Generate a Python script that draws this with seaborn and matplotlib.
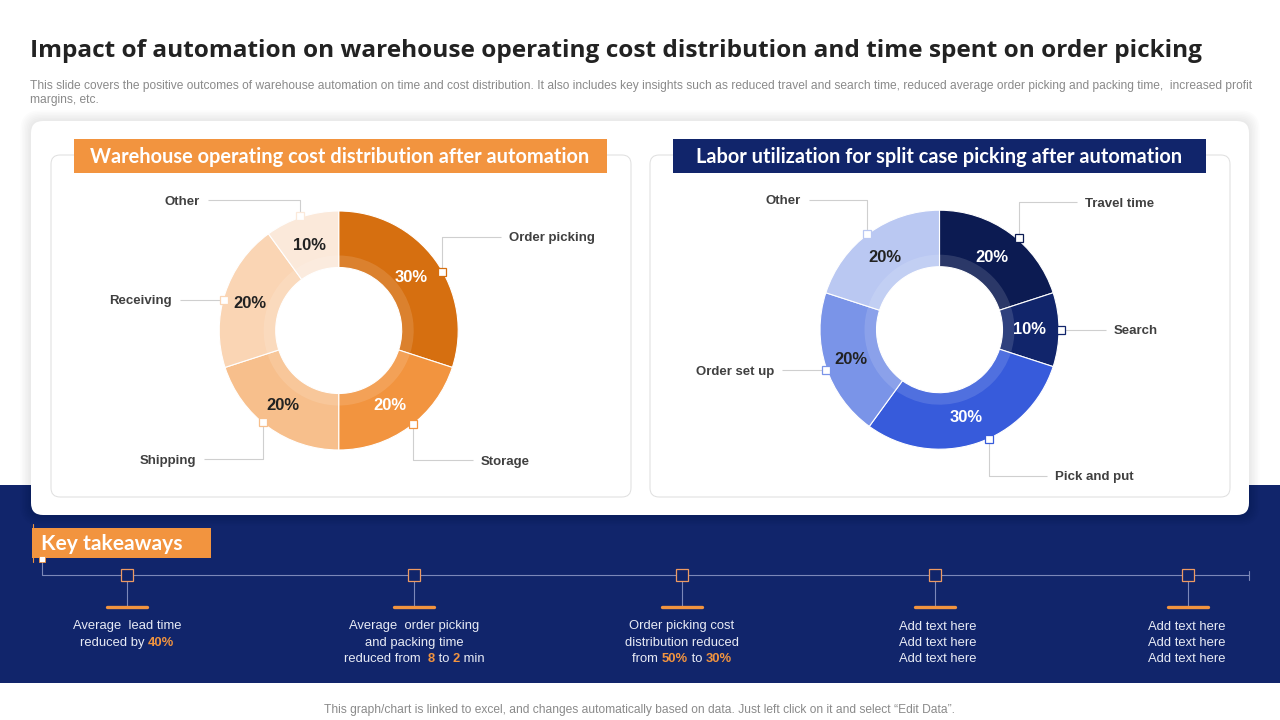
import matplotlib
matplotlib.use("Agg")
import matplotlib.pyplot as plt
from matplotlib.patches import FancyBboxPatch, Rectangle
import seaborn as sns

sns.set_theme(style="white")
plt.rcParams['font.family'] = ['Liberation Sans', 'DejaVu Sans']

# ---- data ----
cost_labels = ["Order picking", "Storage", "Shipping", "Receiving", "Other"]
cost_values = [30, 20, 20, 20, 10]
cost_colors = ["#D66F10", "#F2943F", "#F7BF8C", "#FAD5B4", "#FBE9DA"]
cost_text = ["white", "white", "#222222", "#222222", "#222222"]

labor_labels = ["Travel time", "Search", "Pick and put", "Order set up", "Other"]
labor_values = [20, 10, 30, 20, 20]
labor_colors = ["#0C1B52", "#11256B", "#375BDB", "#7A94E8", "#BAC8F2"]
labor_text = ["white", "white", "white", "#222222", "#222222"]

title = "Impact of automation on warehouse operating cost distribution and time spent on order picking"
subtitle = ["This slide covers the positive outcomes of warehouse automation on time and cost distribution. It also includes key insights such as reduced travel and search time, reduced average order picking and packing time,  increased profit",
            "margins, etc."]
cost_title = "Warehouse operating cost distribution after automation"
labor_title = "Labor utilization for split case picking after automation"
footer = "This graph/chart is linked to excel, and changes automatically based on data. Just left click on it and select “Edit Data”."

NAVY = "#11256B"
ORANGE = "#F2943F"
W, H = 1280, 720

fig = plt.figure(figsize=(12.8, 7.2), dpi=100, facecolor="white")
bg = fig.add_axes([0, 0, 1, 1])
bg.set_xlim(0, W); bg.set_ylim(H, 0); bg.axis("off")


def px(size):
    return size * 0.72


def box(x0, y0, x1, y1, r=0, **kw):
    if r:
        p = FancyBboxPatch((x0 + r, y0 + r), x1 - x0 - 2 * r, y1 - y0 - 2 * r,
                           boxstyle=f"round,pad={r},rounding_size={r}", **kw)
    else:
        p = Rectangle((x0, y0), x1 - x0, y1 - y0, **kw)
    bg.add_patch(p)
    return p


def runs(cx, baseline, parts, size):
    """Centred line of text made of (string, colour, bold) runs."""
    r = fig.canvas.get_renderer()
    arts = [bg.text(0, baseline, s, color=c, fontsize=px(size), va="baseline", ha="left",
                    fontweight="bold" if b else "normal") for s, c, b in parts]
    widths = [a.get_window_extent(r).width for a in arts]
    x = cx - sum(widths) / 2
    for a, w in zip(arts, widths):
        a.set_x(x)
        x += w


# backgrounds
box(0, 485, W, 683, facecolor=NAVY, edgecolor="none", zorder=0)
for i in range(8):
    box(31 - i * 1.5, 121 - i * 1.5, 1249 + i * 1.5, 515 + i * 1.5, r=12 + i,
        facecolor="black", edgecolor="none", alpha=0.012, zorder=0.5)
box(31, 121, 1249, 515, r=12, facecolor="white", edgecolor="none", zorder=1)
box(51, 155, 631, 497, r=9, facecolor="white", edgecolor="#DEDEDE", lw=0.7, zorder=1.1)
box(650, 155, 1230, 497, r=9, facecolor="white", edgecolor="#DEDEDE", lw=0.7, zorder=1.1)

# headings
bg.text(30, 57, title, fontsize=px(24.4), fontweight="bold", color="#222222",
        family=["Open Sans", "DejaVu Sans"], va="baseline", ha="left")
for y, line in zip([89, 103], subtitle):
    bg.text(30, y, line, fontsize=px(12.04), color="#8A8A8A", va="baseline", ha="left")

box(74, 139, 607, 173, facecolor=ORANGE, edgecolor="none", zorder=2)
box(673, 139, 1206, 173, facecolor=NAVY, edgecolor="none", zorder=2)
bg.text(340, 157, cost_title, color="white", fontsize=px(20), fontweight="bold",
        family=["Lato", "DejaVu Sans"], ha="center", va="center", zorder=3)
bg.text(939, 157, labor_title, color="white", fontsize=px(20), fontweight="bold",
        family=["Lato", "DejaVu Sans"], ha="center", va="center", zorder=3)


def donut(cx, cy, values, colors):
    R = 119.5
    ax = fig.add_axes([(cx - R) / W, 1 - (cy + R) / H, 2 * R / W, 2 * R / H], zorder=2)
    ax.pie(values, colors=sns.color_palette(colors), startangle=90, counterclock=False,
           radius=1, wedgeprops=dict(width=1 - 63 / R, edgecolor="white", linewidth=0.8))
    ax.pie(values, colors=["white"] * len(values), startangle=90, counterclock=False,
           radius=75 / R, wedgeprops=dict(width=12 / R, edgecolor="none", alpha=0.13))
    ax.set_xlim(-1, 1); ax.set_ylim(-1, 1)
    ax.patch.set_alpha(0)
    ax.axis("off")


donut(338.7, 330.5, cost_values, cost_colors)
donut(939.5, 329.7, labor_values, labor_colors)

# overlay for callouts and labels
ov = fig.add_axes([0, 0, 1, 1], zorder=5)
ov.set_xlim(0, W); ov.set_ylim(H, 0); ov.axis("off"); ov.patch.set_alpha(0)

LINE = "#CFCFCF"
TXT = "#404040"


def callout(path, colour, label, lx, ly, ha="left"):
    xs, ys = zip(*path)
    ov.plot(xs, ys, color=LINE, lw=0.8, zorder=1, solid_capstyle="butt")
    ov.plot(xs[0], ys[0], marker="s", ms=6.4, mfc="white", mec=colour, mew=0.9, zorder=3)
    ov.text(lx, ly + 1, label, fontsize=px(13.3), fontweight="bold", color=TXT,
            ha=ha, va="center", zorder=3)


callout([(442, 272), (442, 237), (501, 237)], cost_colors[0], cost_labels[0], 509, 237)
callout([(413, 424), (413, 460), (473, 460)], cost_colors[1], cost_labels[1], 481, 461)
callout([(263, 422), (263, 459), (204, 459)], cost_colors[2], cost_labels[2], 196, 460, "right")
callout([(224, 300), (180, 300)], cost_colors[3], cost_labels[3], 172, 300, "right")
callout([(300, 216), (300, 200), (208, 200)], cost_colors[4], cost_labels[4], 200, 201, "right")

callout([(1019, 238), (1019, 202), (1077, 202)], labor_colors[0], labor_labels[0], 1085, 203)
callout([(1061, 330), (1106, 330)], labor_colors[1], labor_labels[1], 1114, 330)
callout([(989, 439), (989, 476), (1047, 476)], labor_colors[2], labor_labels[2], 1055, 476)
callout([(826, 370), (782, 370)], labor_colors[3], labor_labels[3], 774, 371, "right")
callout([(867, 234), (867, 200), (809, 200)], labor_colors[4], labor_labels[4], 801, 200, "right")

cost_pos = [(411, 278), (390, 405), (283, 405), (250, 303), (309, 245)]
labor_pos = [(992, 257), (1029, 330), (966, 417), (851, 359), (885, 257)]
for vals, pos, cols in [(cost_values, cost_pos, cost_text), (labor_values, labor_pos, labor_text)]:
    for v, (x, y), c in zip(vals, pos, cols):
        ov.text(x, y, f"{v}%", color=c, fontsize=px(16.5), fontweight="bold",
                ha="center", va="center", zorder=4)

# key takeaways
bg.plot([32.5, 32.5], [524, 562], color=ORANGE, lw=0.8, zorder=2)
box(32, 528, 211, 558, facecolor=ORANGE, edgecolor="none", zorder=2)
bg.text(41, 544, "Key takeaways", color="white", fontsize=px(21), fontweight="bold",
        family=["Lato", "DejaVu Sans"], ha="left", va="center", zorder=3)
LN = "#7C88B8"
bg.plot([42, 42, 1249], [558, 575, 575], color=LN, lw=0.8, zorder=1.5)
bg.plot([1249, 1249], [571, 580], color=LN, lw=0.8, zorder=1.5)
bg.plot(42, 559, marker="s", ms=4, mfc="white", mec=ORANGE, mew=0.6, zorder=3)

stops = [127, 414, 682, 935, 1188]
for x in stops:
    bg.plot([x, x], [575, 607], color=LN, lw=0.8, zorder=1.5)
    bg.plot(x, 575, marker="s", ms=8.6, mfc=NAVY, mec="#EE9A62", mew=0.9, zorder=3)
    bg.plot([x - 20, x + 20], [607, 607], color=ORANGE, lw=2.4, solid_capstyle="round", zorder=3)

T = "#E8EBF5"
H_ = ORANGE
S = 13
L1, L2, L3 = 629.5, 646, 662
runs(127, L1, [("Average  lead time", T, False)], S)
runs(127, L2, [("reduced by ", T, False), ("40%", H_, True)], S)
runs(414, L1, [("Average  order picking", T, False)], S)
runs(414, L2, [("and packing time", T, False)], S)
runs(414, L3, [("reduced from  ", T, False), ("8", H_, True), (" to ", T, False), ("2", H_, True), (" min", T, False)], S)
runs(682, L1, [("Order picking cost", T, False)], S)
runs(682, L2, [("distribution reduced", T, False)], S)
runs(682, L3, [("from ", T, False), ("50%", H_, True), (" to ", T, False), ("30%", H_, True)], S)
for x in (938, 1187):
    for y in (L1, L2, L3):
        runs(x, y, [("Add text here", T, False)], S)

bg.text(640, 713, footer, color="#8A8A8A", fontsize=px(12.05), ha="center", va="baseline")

fig.savefig("out.png", dpi=100, facecolor="white")
